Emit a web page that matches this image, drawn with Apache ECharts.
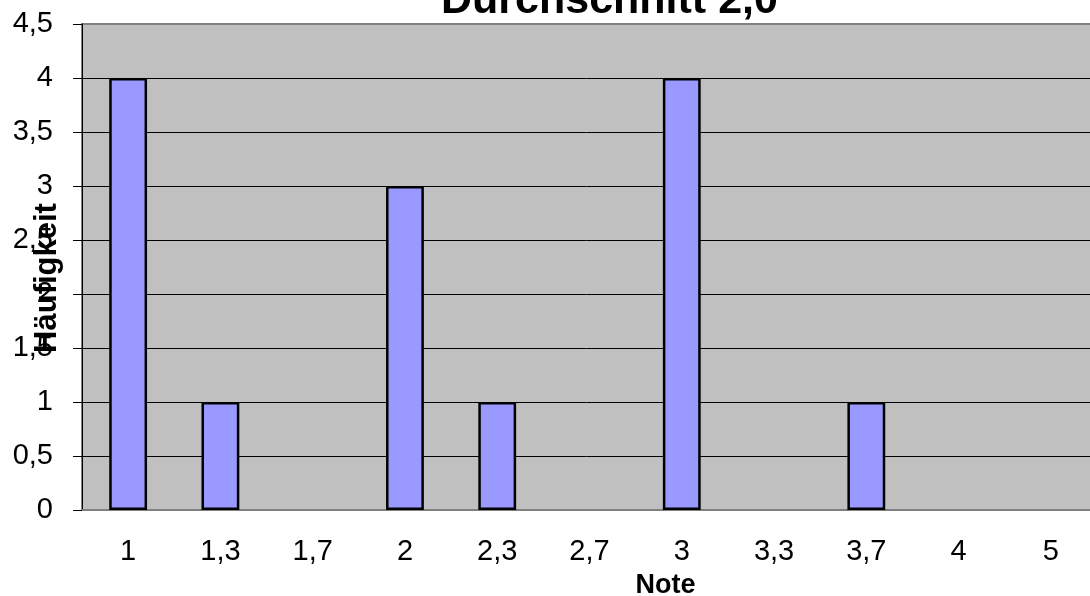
<!DOCTYPE html>
<html>
<head>
<meta charset="utf-8">
<style>
  html, body { margin: 0; padding: 0; background: #fff; }
  #chart { width: 1090px; height: 596px; }
</style>
<script src="https://cdn.jsdelivr.net/npm/echarts@6/dist/echarts.min.js"></script>
</head>
<body>
<div id="chart"></div>
<script>
// Notenverteilung
const noten = ['1', '1,3', '1,7', '2', '2,3', '2,7', '3', '3,3', '3,7', '4', '5'];
const haeufigkeit = [4, 1, 0, 3, 1, 0, 4, 0, 1, 0, 0];

const chart = echarts.init(document.getElementById('chart'));
const font = 'Liberation Sans, Arial, sans-serif';

const option = {
  animation: false,
  textStyle: { fontFamily: font },
  title: {
    text: 'Durchschnitt 2,0',
    left: 436,
    top: -25,
    textStyle: { fontSize: 43, fontWeight: 'bold', color: '#000', fontFamily: font }
  },
  grid: {
    left: 82, right: -7, top: 24, bottom: 86,
    outerBoundsMode: 'none',
    containLabel: false,
    show: true,
    backgroundColor: '#C0C0C0',
    borderColor: '#808080',
    borderWidth: 2
  },
  xAxis: {
    type: 'category',
    data: noten,
    name: 'Note',
    nameLocation: 'middle',
    nameGap: 62,
    nameMoveOverlap: false,
    nameTextStyle: { fontSize: 27, fontWeight: 'bold', color: '#000', padding: [0, 0, 0, 152] },
    axisLine: { lineStyle: { color: '#808080', width: 2 } },
    axisTick: { length: 9, lineStyle: { color: '#808080' } },
    axisLabel: { fontSize: 29, color: '#000', margin: 27 }
  },
  yAxis: {
    type: 'value',
    min: 0,
    max: 4.5,
    interval: 0.5,
    name: 'Häufigkeit',
    nameLocation: 'middle',
    nameRotate: 90,
    nameGap: 19,
    nameMoveOverlap: false,
    nameTextStyle: { fontSize: 31, fontWeight: 'bold', color: '#000', padding: [0, 22, 0, 0] },
    axisLine: { show: true, lineStyle: { color: '#000', width: 1 } },
    axisTick: { show: true, length: 9, lineStyle: { color: '#000' } },
    axisLabel: {
      fontSize: 29, color: '#000', margin: 29,
      formatter: v => String(v).replace('.', ',')
    },
    splitLine: { show: true, showMinLine: false, showMaxLine: false, lineStyle: { color: '#000', width: 1 } }
  },
  series: [{
    type: 'bar',
    data: haeufigkeit.map(v => (v === 0 ? null : v)),
    barWidth: '41%',
    itemStyle: { color: '#9999FF', borderColor: '#000', borderWidth: 2.5 }
  }]
};
chart.setOption(option);
</script>
</body>
</html>
